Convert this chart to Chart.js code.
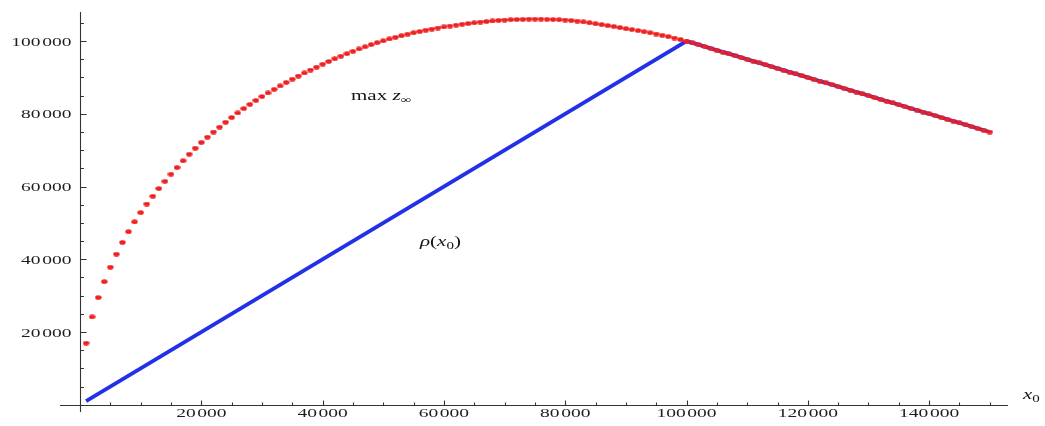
<!DOCTYPE html>
<html>
<head>
<meta charset="utf-8">
<script src="https://cdn.jsdelivr.net/npm/chart.js@4/dist/chart.umd.min.js"></script>
<style>
html,body{margin:0;padding:0;background:#fff;}
canvas{display:block;}
</style>
</head>
<body>
<canvas id="c" width="1045" height="426"></canvas>
<script>
// ---- data ----
const redX = [
 1000,2000,3000,4000,5000,6000,7000,8000,9000,10000,
 11000,12000,13000,14000,15000,16000,17000,18000,19000,20000,
 21000,22000,23000,24000,25000,26000,27000,28000,29000,30000,
 31000,32000,33000,34000,35000,36000,37000,38000,39000,40000,
 41000,42000,43000,44000,45000,46000,47000,48000,49000,50000,
 51000,52000,53000,54000,55000,56000,57000,58000,59000,60000,
 61000,62000,63000,64000,65000,66000,67000,68000,69000,70000,
 71000,72000,73000,74000,75000,76000,77000,78000,79000,80000,
 81000,82000,83000,84000,85000,86000,87000,88000,89000,90000,
 91000,92000,93000,94000,95000,96000,97000,98000,99000,100000,
 101000,102000,103000,104000,105000,106000,107000,108000,109000,110000,
 111000,112000,113000,114000,115000,116000,117000,118000,119000,120000,
 121000,122000,123000,124000,125000,126000,127000,128000,129000,130000,
 131000,132000,133000,134000,135000,136000,137000,138000,139000,140000,
 141000,142000,143000,144000,145000,146000,147000,148000,149000,150000
];
const redY = [
 16950,24170,29480,33870,37830,41400,44650,47600,50300,52850,
 55200,57350,59450,61450,63400,65250,67100,68900,70550,72150,
 73600,75000,76350,77700,79000,80250,81450,82600,83700,84750,
 85750,86750,87700,88650,89550,90400,91250,92050,92850,93650,
 94400,95150,95850,96550,97200,97850,98450,99050,99600,100100,
 100600,101050,101500,101900,102300,102650,103000,103300,103600,103900,
 104150,104400,104650,104850,105050,105250,105400,105550,105700,105800,
 105900,105950,106000,106050,106050,106050,106000,105950,105900,105800,
 105650,105500,105300,105050,104800,104550,104300,104050,103750,103450,
 103200,102900,102600,102300,101950,101600,101250,100850,100450,100000,
 99500,99000,98500,98000,97500,97000,96500,96000,95500,95000,
 94500,94000,93500,93000,92500,92000,91500,91000,90500,90000,
 89500,89000,88500,88000,87500,87000,86500,86000,85500,85000,
 84500,84000,83500,83000,82500,82000,81500,81000,80500,80000,
 79500,79000,78500,78000,77500,77000,76500,76000,75500,75000
];
const blueX = [1000, 100000, 150000];
const blueY = [1000, 100000, 75000];

const xTicks = [20000, 40000, 60000, 80000, 100000, 120000, 140000];
const xTickLabels = ['20\u200A000','40\u200A000','60\u200A000','80\u200A000','100\u200A000','120\u200A000','140\u200A000'];
const xMinor = [5000,10000,15000,25000,30000,35000,45000,50000,55000,65000,70000,75000,85000,90000,95000,105000,110000,115000,125000,130000,135000,145000,150000];
const yTicks = [20000, 40000, 60000, 80000, 100000];
const yTickLabels = ['20\u200A000','40\u200A000','60\u200A000','80\u200A000','100\u200A000'];
const yMinor = [5000,10000,15000,25000,30000,35000,45000,50000,55000,65000,70000,75000,85000,90000,95000,105000];

// ---- styles ----
const RED = 'rgb(238,32,32)';
const BLUE = 'rgb(34,48,232)';
const SX = 1.5; // horizontal stretch of text, as in reference

const dot = document.createElement('canvas');
dot.width = 7; dot.height = 5;
(function(){
  const g = dot.getContext('2d');
  g.fillStyle = RED;
  g.beginPath();
  g.ellipse(3.5, 2.5, 3.2, 2.3, 0, 0, Math.PI*2);
  g.fill();
})();

function drawRuns(ctx, x, y, runs, align){
  ctx.save();
  ctx.translate(x, y);
  ctx.scale(SX, 1);
  ctx.textBaseline = 'alphabetic';
  let total = 0;
  runs.forEach(r => { ctx.font = r.font; total += ctx.measureText(r.t).width; });
  let cx = align === 'right' ? -total : (align === 'center' ? -total/2 : 0);
  runs.forEach(r => {
    ctx.font = r.font;
    ctx.fillStyle = r.color || '#151515';
    ctx.textAlign = 'left';
    ctx.fillText(r.t, cx, r.dy || 0);
    cx += ctx.measureText(r.t).width;
  });
  ctx.restore();
}

const axesPlugin = {
  id: 'mmaAxes',
  beforeDatasetsDraw(chart){
    const ctx = chart.ctx;
    const xs = chart.scales.x, ys = chart.scales.y;
    const px0 = Math.round(xs.getPixelForValue(0)) + 0.5;
    const py0 = Math.round(ys.getPixelForValue(0)) + 0.5;
    ctx.save();
    ctx.strokeStyle = '#333';
    ctx.lineWidth = 1.1;
    ctx.beginPath();
    ctx.moveTo(xs.left, py0); ctx.lineTo(xs.right, py0);
    ctx.moveTo(px0, ys.bottom); ctx.lineTo(px0, ys.top);
    ctx.stroke();
    ctx.beginPath();
    xTicks.forEach(v => { const p = Math.round(xs.getPixelForValue(v)) + 0.5; ctx.moveTo(p, py0); ctx.lineTo(p, py0 - 5); });
    xMinor.forEach(v => { const p = Math.round(xs.getPixelForValue(v)) + 0.5; ctx.moveTo(p, py0); ctx.lineTo(p, py0 - 3); });
    yTicks.forEach(v => { const p = Math.round(ys.getPixelForValue(v)) + 0.5; ctx.moveTo(px0, p); ctx.lineTo(px0 + 6, p); });
    yMinor.forEach(v => { const p = Math.round(ys.getPixelForValue(v)) + 0.5; ctx.moveTo(px0, p); ctx.lineTo(px0 + 3.5, p); });
    ctx.stroke();
    ctx.restore();

    const tf = '13px "Liberation Serif", "DejaVu Serif", serif';
    xTicks.forEach((v, i) => {
      drawRuns(ctx, xs.getPixelForValue(v), py0 + 11.5, [{t: xTickLabels[i], font: tf, color: '#1e1e1e'}], 'center');
    });
    yTicks.forEach((v, i) => {
      drawRuns(ctx, px0 - 9, ys.getPixelForValue(v) + 4.5, [{t: yTickLabels[i], font: tf, color: '#1e1e1e'}], 'right');
    });
  },
  afterDatasetsDraw(chart){
    const ctx = chart.ctx;
    const f = '14px "Liberation Serif", "DejaVu Serif", serif';
    const fi = 'italic 14px "Liberation Serif", "DejaVu Serif", serif';
    const fs = '10px "Liberation Serif", "DejaVu Serif", serif';
    drawRuns(ctx, 351, 99.5, [
      {t: 'max ', font: f},
      {t: 'z', font: fi},
      {t: '\u221E', font: fs, dy: 3}
    ], 'left');
    drawRuns(ctx, 420, 246, [
      {t: '\u03C1', font: fi},
      {t: '(', font: f},
      {t: 'x', font: fi},
      {t: '0', font: fs, dy: 3},
      {t: ')', font: f}
    ], 'left');
    drawRuns(ctx, 1023, 399, [
      {t: 'x', font: fi},
      {t: '0', font: fs, dy: 3}
    ], 'left');
  }
};

new Chart(document.getElementById('c').getContext('2d'), {
  type: 'scatter',
  data: {
    datasets: [
      {
        label: 'max z\u221E',
        data: redX.map((v, i) => ({x: v, y: redY[i]})),
        showLine: false,
        pointStyle: dot,
        pointRadius: 3,
        pointHoverRadius: 3,
        order: 0,
        clip: false
      },
      {
        label: '\u03C1(x0)',
        data: blueX.map((v, i) => ({x: v, y: blueY[i]})),
        showLine: true,
        borderColor: BLUE,
        backgroundColor: BLUE,
        borderWidth: 3.8,
        pointRadius: 0,
        tension: 0,
        order: 1,
        clip: false
      }
    ]
  },
  options: {
    responsive: false,
    animation: false,
    devicePixelRatio: 1,
    layout: {padding: {left: 60, right: 37, top: 12, bottom: 14}},
    scales: {
      x: {type: 'linear', min: -3300, max: 153000, display: false},
      y: {type: 'linear', min: -2000, max: 108000, display: false}
    },
    plugins: {legend: {display: false}, tooltip: {enabled: false}}
  },
  plugins: [axesPlugin]
});
</script>
</body>
</html>
